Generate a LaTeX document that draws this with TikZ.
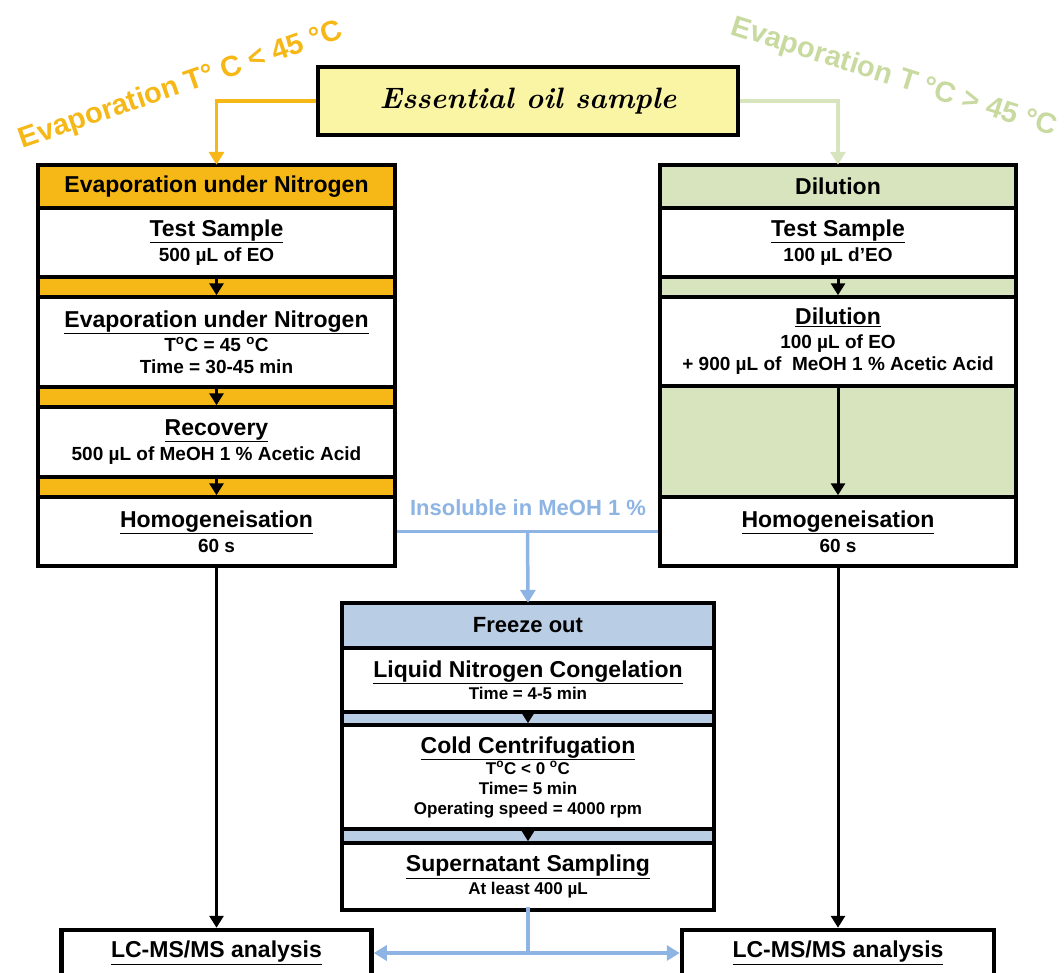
\documentclass[tikz,border=0pt]{standalone}
\usepackage{fontspec}
\setsansfont{Liberation Sans}
\renewcommand{\familydefault}{\sfdefault}
\usetikzlibrary{arrows.meta,calc}

\definecolor{evapor}{RGB}{246,184,23}
\definecolor{dilgreen}{RGB}{215,228,189}
\definecolor{dilgreentext}{RGB}{200,218,160}
\definecolor{frzblue}{RGB}{185,205,229}
\definecolor{frzline}{RGB}{142,180,227}
\definecolor{eoyellow}{RGB}{250,244,165}

\newcommand{\steptitle}[1]{{\fontsize{23}{25}\selectfont\underline{#1}}}

\tikzset{
  outerbox/.style={minimum width=#1, inner sep=0pt},
  boxline/.style={draw=black, line width=4.5pt},
  headband/.style={draw, line width=3.5pt, minimum width=#1, minimum height=43pt, inner sep=0pt,
    font=\bfseries\fontsize{23}{25}\selectfont},
  secbox/.style={draw, fill=white, line width=3.5pt, minimum width=#1, inner sep=0pt, align=center,
    font=\bfseries\fontsize{19}{22}\selectfont},
  smallsec/.style={secbox=#1, font=\bfseries\fontsize{17}{20}\selectfont},
  steparrow/.style={line width=3pt, -{Triangle[width=14pt,length=12pt]}},
  flowline/.style={line width=3.5pt},
  lclabel/.style={rotate=#1, font=\bfseries\fontsize{29}{31}\selectfont}
}

\begin{document}
\begin{tikzpicture}[x=1pt,y=-1pt]
  \useasboundingbox (0,0) rectangle (1064,972);

  % starting sample
  \node[draw, fill=eoyellow, line width=4pt, minimum width=420pt, minimum height=68pt,
        font=\rmfamily\bfseries\itshape\fontsize{29.5}{32}\selectfont] (eo) at (528,101) {Essential oil sample};

  \node[lclabel=19, text=evapor] (lowlab) at (181,86) {Evaporation T° C < 45 °C};
  \node[lclabel=-17.5, text=dilgreentext] (highlab) at (894,78) {Evaporation T °C > 45 °C};

  % left column: evaporation
  \node[outerbox=357pt, fill=evapor, minimum height=401pt] (lframe) at (216.5,365.5) {};
  \node[headband=357pt, fill=evapor] (lhead) at (216.5,186.5) {Evaporation under Nitrogen};
  \node[secbox=357pt, minimum height=69pt] (ls1) at (216.5,242.5)
    {\steptitle{Test Sample}\\[3pt]500 µL of EO};
  \node[secbox=357pt, minimum height=90pt] (ls2) at (216.5,342)
    {\steptitle{Evaporation under Nitrogen}\\[2pt]T\textsuperscript{o}C = 45 \textsuperscript{o}C\\Time = 30-45 min};
  \node[secbox=357pt, minimum height=70pt] (ls3) at (216.5,442)
    {\steptitle{Recovery}\\[3pt]500 µL of MeOH 1 \% Acetic Acid};
  \node[secbox=357pt, minimum height=69pt] (ls4) at (216.5,531.5)
    {\steptitle{Homogeneisation}\\[3pt]60 s};
  \draw[boxline] (lframe.north west) rectangle (lframe.south east);
  \draw[steparrow] (ls1.south) -- (ls2.north);
  \draw[steparrow] (ls2.south) -- (ls3.north);
  \draw[steparrow] (ls3.south) -- (ls4.north);

  % right column: dilution
  \node[outerbox=356pt, fill=dilgreen, minimum height=401pt] (rframe) at (838,365.5) {};
  \node[headband=356pt, fill=dilgreen] (rhead) at (838,186.5) {Dilution};
  \node[secbox=356pt, minimum height=69pt] (rs1) at (838,242.5)
    {\steptitle{Test Sample}\\[3pt]100 µL d’EO};
  \node[secbox=356pt, minimum height=89pt] (rs2) at (838,341.5)
    {\steptitle{Dilution}\\[2pt]100 µL of EO\\+ 900 µL of\ \ MeOH 1 \% Acetic Acid};
  \node[secbox=356pt, minimum height=69pt] (rs4) at (838,531.5)
    {\steptitle{Homogeneisation}\\[3pt]60 s};
  \draw[boxline] (rframe.north west) rectangle (rframe.south east);
  \draw[steparrow] (rs1.south) -- (rs2.north);
  \draw[steparrow] (rs2.south) -- (rs4.north);

  % centre column: freeze out
  \node[outerbox=372pt, fill=frzblue, minimum height=307pt] (fz) at (528,756.5) {};
  \node[headband=372pt, fill=frzblue, minimum height=45pt, font=\bfseries\fontsize{22}{24}\selectfont] (fzhead) at (528,625.5) {Freeze out};
  \node[smallsec=372pt, minimum height=64pt] (fs1) at (528,680)
    {\steptitle{Liquid Nitrogen Congelation}\\[2pt]Time = 4-5 min};
  \node[smallsec=372pt, minimum height=104pt] (fs2) at (528,777)
    {\steptitle{Cold Centrifugation}\\[1pt]T\textsuperscript{o}C < 0 \textsuperscript{o}C\\Time= 5 min\\Operating speed = 4000 rpm};
  \node[smallsec=372pt, minimum height=67pt] (fs3) at (528,876.5)
    {\steptitle{Supernatant Sampling}\\[3pt]At least 400 µL};
  \draw[boxline] (fz.north west) rectangle (fz.south east);
  \draw[steparrow] (fs1.south) -- (fs2.north);
  \draw[steparrow] (fs2.south) -- (fs3.north);

  % analysis boxes
  \node[draw, line width=4.5pt, minimum width=310pt, minimum height=46pt] (lcl) at (216.5,953)
    {\bfseries\steptitle{LC-MS/MS analysis}};
  \node[draw, line width=4.5pt, minimum width=312pt, minimum height=46pt] (lcr) at (838,953)
    {\bfseries\steptitle{LC-MS/MS analysis}};

  % connectors
  \draw[flowline, evapor, -{Triangle[width=15pt,length=13pt]}] (eo.west) -| (lframe.north);
  \draw[flowline, dilgreen, -{Triangle[width=15pt,length=13pt]}] (eo.east) -| (rframe.north);

  \node[text=frzline, font=\bfseries\fontsize{22}{24}\selectfont] (insol) at (528,508) {Insoluble in MeOH 1 \%};
  \draw[flowline, frzline] (ls4.east) -- (rs4.west);
  \coordinate (split) at ($(ls4.east)!0.5!(rs4.west)$);
  \draw[flowline, frzline, -{Triangle[width=15pt,length=13pt]}] (split) -- (fz.north);

  \draw[steparrow] (ls4.south) -- (lcl.north);
  \draw[steparrow] (rs4.south) -- (lcr.north);

  \coordinate (fzdrop) at (fz.south |- lcl.east);
  \draw[flowline, frzline] ([yshift=3pt]fz.south) -- (fzdrop);
  \draw[flowline, frzline, {Triangle[width=15pt,length=13pt]}-{Triangle[width=15pt,length=13pt]}] (lcl.east) -- (lcr.west);
\end{tikzpicture}
\end{document}
